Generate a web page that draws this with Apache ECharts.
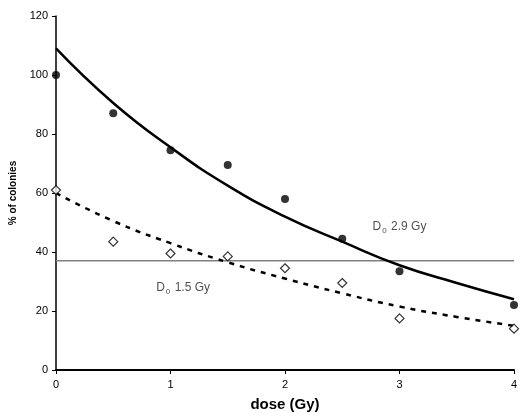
<!DOCTYPE html>
<html><head><meta charset="utf-8">
<script src="https://cdn.jsdelivr.net/npm/echarts@6/dist/echarts.min.js"></script>
<style>html,body{margin:0;padding:0;background:#fff}#c{width:522px;height:417px}</style>
</head><body><div id="c"></div>
<script>
const doseFilled = [0, 0.5, 1, 1.5, 2, 2.5, 3, 4];
const filledValues = [100, 87, 74.5, 69.5, 58, 44.5, 33.5, 22];
const doseOpen = [0, 0.5, 1, 1.5, 2, 2.5, 3, 4];
const openValues = [61, 43.5, 39.5, 38.5, 34.5, 29.5, 17.5, 14];
const curveDose = [0, 0.5, 1, 1.5, 2, 2.5, 3, 3.5, 4];
const solidCurve = [109, 90.5, 75.5, 62.5, 52, 43.5, 35.5, 29.5, 24];
const dashedCurve = [60, 50.5, 43, 36.5, 31, 26, 21.5, 18, 15];
const refLevel = 37;
const xTicks = [0, 1, 2, 3, 4];
const yTicks = [0, 20, 40, 60, 80, 100, 120];
const labelSolid = {dose: 3.0, value: 48.5, sub: '0', text: ' 2.9 Gy'};
const labelDashed = {dose: 1.11, value: 27.8, sub: '0', text: ' 1.5 Gy'};

const pairs = (xs, ys) => xs.map((x, i) => [x, ys[i]]);
const font = 'Arial, "Liberation Sans", sans-serif';
const chart = echarts.init(document.getElementById('c'));
chart.setOption({
  animation: false,
  backgroundColor: '#fff',
  grid: {left: 56, right: 8, top: 16, bottom: 42},
  xAxis: {
    type: 'value', min: 0, max: 4, interval: 1,
    name: 'dose (Gy)', nameLocation: 'middle', nameGap: 27,
    nameTextStyle: {fontFamily: font, fontWeight: 'bold', fontSize: 15, color: '#000'},
    axisLine: {lineStyle: {color: '#000', width: 2}},
    axisTick: {show: true, length: 4, lineStyle: {color: '#000'}},
    axisLabel: {fontFamily: font, fontSize: 11, color: '#000', margin: 9,
      formatter: v => xTicks.includes(v) ? String(v) : ''},
    splitLine: {show: false}
  },
  yAxis: {
    type: 'value', min: 0, max: 120, interval: 20,
    name: '% of colonies', nameLocation: 'middle', nameGap: 38,
    nameTextStyle: {fontFamily: font, fontWeight: 'bold', fontSize: 10, color: '#000'},
    axisLine: {show: true, lineStyle: {color: '#000', width: 1.5}},
    axisTick: {show: true, length: 4, lineStyle: {color: '#000'}},
    axisLabel: {fontFamily: font, fontSize: 11, color: '#000', margin: 8,
      formatter: v => yTicks.includes(v) ? String(v) : ''},
    splitLine: {show: false}
  },
  series: [
    {type: 'line', data: pairs(curveDose, solidCurve), smooth: true, symbol: 'none',
      lineStyle: {color: '#000', width: 2.5}, z: 3},
    {type: 'line', data: pairs(curveDose, dashedCurve), smooth: true, symbol: 'none',
      lineStyle: {color: '#000', width: 2.5, type: [5, 6]}, z: 3},
    {type: 'line', data: [[0, refLevel], [4, refLevel]], symbol: 'none',
      lineStyle: {color: '#808080', width: 1.5}, z: 2},
    {type: 'scatter', data: pairs(doseFilled, filledValues), symbol: 'circle', symbolSize: 8,
      itemStyle: {color: '#000'}, z: 4},
    {type: 'scatter', data: pairs(doseOpen, openValues), symbol: 'diamond', symbolSize: 9,
      itemStyle: {color: '#fff', borderColor: '#000', borderWidth: 1.2}, z: 4},
    {type: 'scatter', symbolSize: 0, silent: true,
      data: [[labelSolid.dose, labelSolid.value], [labelDashed.dose, labelDashed.value]],
      label: {show: true, position: 'inside',
        formatter: p => {
          const l = p.dataIndex === 0 ? labelSolid : labelDashed;
          return '{m|D}{s|' + l.sub + '}{m|' + l.text + '}';
        },
        rich: {
          m: {fontFamily: font, fontSize: 12, color: '#222'},
          s: {fontFamily: font, fontSize: 8, color: '#222', verticalAlign: 'bottom', padding: [7, 1, 0, 1]}
        }}}
  ]
});
</script></body></html>
